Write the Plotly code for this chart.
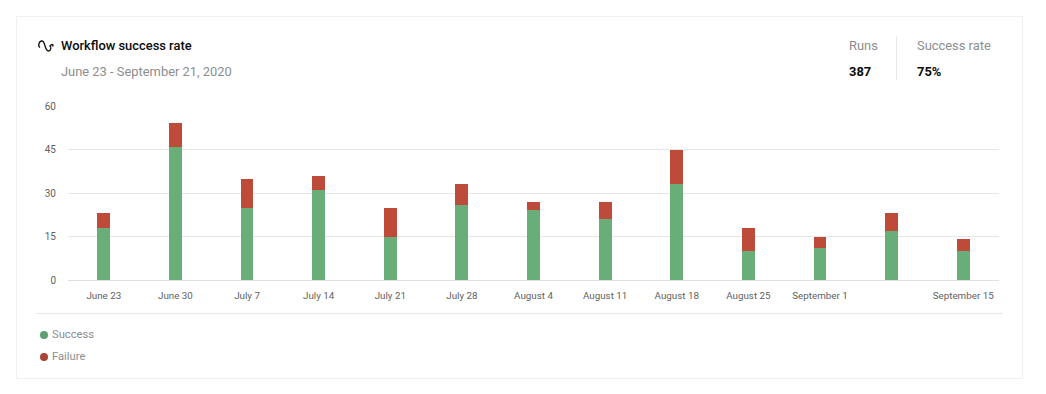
import plotly.graph_objects as go

# The page body has an 8 px margin, so page positions are offset by OFF inside the figure.
OFF = 8
W, H = 1030, 378
L, R, T, B = 68, 999, 106, 280

categories = ["June 23", "June 30", "July 7", "July 14", "July 21", "July 28", "August 4",
              "August 11", "August 18", "August 25", "September 1", "September 8", "September 15"]
tick_labels = ["June 23", "June 30", "July 7", "July 14", "July 21", "July 28", "August 4",
               "August 11", "August 18", "August 25", "September 1", "", "September 15"]
success = [18, 46, 25, 31, 15, 26, 24, 21, 33, 10, 11, 17, 10]
failure = [5, 8, 10, 5, 10, 7, 3, 6, 12, 8, 4, 6, 4]
y_ticks = [0, 15, 30, 45, 60]


def px(x):
    return (x - L) / (R - L)


def py(y):
    return (B - y) / (B - T)


fig = go.Figure()
fig.add_bar(x=categories, y=success, name="Success", marker=dict(color="#69ae78", line_width=0), width=0.18)
fig.add_bar(x=categories, y=failure, name="Failure", marker=dict(color="#be4a3a", line_width=0), width=0.18)

shapes = [
    dict(type="rect", xref="paper", yref="paper", x0=px(16.5), x1=px(1022.5), y0=py(378.5), y1=py(16.5),
         line=dict(color="#f0f0f0", width=1), fillcolor="white", layer="below"),
    dict(type="line", xref="paper", yref="paper", x0=px(36), x1=px(1003), y0=py(313.5), y1=py(313.5),
         line=dict(color="#e8e8e8", width=1)),
    dict(type="line", xref="paper", yref="paper", x0=px(896.5), x1=px(896.5), y0=py(36), y1=py(80),
         line=dict(color="#e8e8e8", width=1)),
    dict(type="circle", xref="paper", yref="paper", x0=px(40), x1=px(48), y0=py(339), y1=py(331),
         fillcolor="#5f9f73", line_width=0),
    dict(type="circle", xref="paper", yref="paper", x0=px(40), x1=px(48), y0=py(361), y1=py(353),
         fillcolor="#a94438", line_width=0),
]
icon = (
    "M {0},{1} C {2},{3} {4},{5} {6},{7} C {8},{9} {10},{11} {12},{13} C {14},{15} {16},{17} {18},{19} "
    "C {20},{21} {22},{23} {24},{25}"
)
icon_pts = [40, 47.5, 37.5, 46, 39, 41, 42, 41, 45.5, 41, 44.5, 51, 48.5, 51, 51, 51, 51.5, 47, 50, 46, 52, 43.5, 54, 44.5, 52.5, 46.5]
vals = []
for i, v in enumerate(icon_pts):
    vals.append(f"{px(v) if i % 2 == 0 else py(v):.5f}")
shapes.append(dict(type="path", xref="paper", yref="paper", path=icon.format(*vals),
                   line=dict(color="#111111", width=1.3)))


def note(x, y, text, size, color, weight="normal"):
    return dict(xref="paper", yref="paper", x=px(x), y=py(y), text=text, showarrow=False,
                xanchor="left", yanchor="middle", borderpad=0, borderwidth=0,
                font=dict(family="Roboto", size=size, color=color, weight=weight))


annotations = [
    note(61, 45.5, "Workflow success rate", 12.9, "#0b0b0b", 500),
    note(61, 71, "June 23 - September 21, 2020", 12.9, "#8d8d8d"),
    note(849, 46, "Runs", 12.9, "#8d8d8d"),
    note(849, 71, "387", 12.9, "#0b0b0b", 700),
    note(917, 46, "Success rate", 12.9, "#8d8d8d"),
    note(917, 71, "75%", 12.9, "#0b0b0b", 700),
    note(52, 334.5, "Success", 11.2, "#8d8d8d"),
    note(52, 356.5, "Failure", 11.2, "#8d8d8d"),
]

fig.update_layout(
    width=W, height=H, autosize=False, barmode="stack", showlegend=False,
    margin=dict(l=L - OFF, r=W - (R - OFF), t=T - OFF, b=H - (B - OFF), pad=0),
    paper_bgcolor="white", plot_bgcolor="rgba(0,0,0,0)",
    font=dict(family="Roboto", size=10, color="#5f5f5f"),
    shapes=shapes, annotations=annotations, hovermode=False,
    xaxis=dict(tickmode="array", tickvals=categories, ticktext=tick_labels, ticks="", showgrid=False,
               showline=False, zeroline=False, tickfont=dict(size=9.8, color="#5f5f5f"), tickangle=0,
               range=[-0.5, 12.5], ticklabelstandoff=8),
    yaxis=dict(range=[0, 60], tickvals=y_ticks, ticks="", ticklen=0, gridcolor="#e6e6e6", gridwidth=1,
               zeroline=True, zerolinecolor="#e0e0e0", zerolinewidth=1, showline=False,
               tickfont=dict(size=10, color="#5f5f5f"), ticklabelstandoff=11),
)
fig.write_html("out.html", config=dict(displayModeBar=False))
